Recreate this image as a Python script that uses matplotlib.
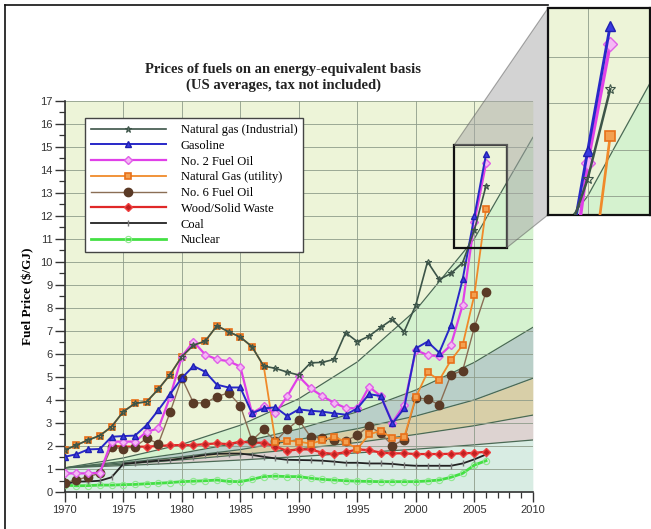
import matplotlib
matplotlib.use("Agg")
import matplotlib.pyplot as plt
from matplotlib.patches import Rectangle, Polygon
from matplotlib.lines import Line2D
import numpy as np

# values, $/GJ
years = list(range(1970, 2007))

gas_ind = [1.82, 2.04, 2.26, 2.45, 2.84, 3.49, 3.85, 3.92, 4.47, 5.10,
           5.88, 6.38, 6.55, 7.22, 6.96, 6.73, 6.31, 5.47, 5.37, 5.21,
           5.08, 5.61, 5.63, 5.76, 6.92, 6.53, 6.77, 7.15, 7.50, 6.96,
           8.12, 10.0, 9.23, 9.49, 9.96, 11.37, 13.3]
gasoline = [1.53, 1.64, 1.85, 1.87, 2.40, 2.43, 2.45, 2.91, 3.56, 4.25,
            4.95, 5.47, 5.22, 4.66, 4.54, 4.54, 3.42, 3.63, 3.68, 3.30,
            3.59, 3.53, 3.49, 3.42, 3.36, 3.63, 4.25, 4.17, 2.98, 3.63,
            6.24, 6.53, 6.05, 7.25, 9.23, 11.97, 14.67]
fuel2 = [0.81, 0.81, 0.81, 0.84, 2.19, 2.19, 2.19, 2.62, 2.76, 4.14,
         5.88, 6.53, 5.97, 5.76, 5.68, 5.45, 3.42, 3.73, 3.42, 4.15,
         5.02, 4.50, 4.17, 3.88, 3.65, 3.63, 4.57, 4.17, 3.01, 3.78,
         6.16, 5.95, 5.90, 6.38, 8.12, 11.71, 14.27]
gas_util = [1.82, 2.04, 2.26, 2.45, 2.84, 3.49, 3.85, 3.92, 4.47, 5.10,
            5.88, 6.38, 6.55, 7.22, 6.96, 6.73, 6.31, 5.47, 2.19, 2.23,
            2.19, 2.10, 2.24, 2.40, 2.18, 1.87, 2.50, 2.66, 2.33, 2.37,
            4.12, 5.20, 4.86, 5.72, 6.38, 8.55, 12.3]
fuel6 = [0.41, 0.52, 0.67, 0.81, 1.95, 1.88, 1.97, 2.33, 2.10, 3.46,
         4.95, 3.87, 3.87, 4.14, 4.31, 3.75, 2.24, 2.72, 2.20, 2.72,
         3.13, 2.40, 2.35, 2.26, 2.22, 2.47, 2.87, 2.55, 2.02, 2.27,
         4.07, 4.05, 3.78, 5.09, 5.27, 7.15, 8.68]
wood_years = list(range(1974, 2007))
wood = [2.00, 1.97, 1.97, 1.97, 2.00, 2.03, 2.04, 2.04, 2.08, 2.11,
        2.08, 2.19, 2.14, 2.14, 1.97, 1.79, 1.85, 1.85, 1.71, 1.65,
        1.73, 1.85, 1.82, 1.71, 1.68, 1.68, 1.65, 1.65, 1.65, 1.66,
        1.68, 1.70, 1.75]
coal = [0.35, 0.45, 0.46, 0.49, 0.64, 1.22, 1.27, 1.32, 1.36, 1.39,
        1.46, 1.53, 1.61, 1.66, 1.67, 1.67, 1.61, 1.53, 1.46, 1.40,
        1.39, 1.38, 1.36, 1.32, 1.27, 1.27, 1.24, 1.24, 1.22, 1.17,
        1.14, 1.14, 1.14, 1.14, 1.24, 1.42, 1.63]
nuclear = [0.30, 0.27, 0.28, 0.30, 0.30, 0.32, 0.33, 0.36, 0.38, 0.41,
           0.45, 0.47, 0.49, 0.52, 0.46, 0.45, 0.55, 0.67, 0.69, 0.67,
           0.67, 0.60, 0.55, 0.52, 0.49, 0.47, 0.46, 0.45, 0.45, 0.45,
           0.45, 0.48, 0.52, 0.64, 0.81, 1.17, 1.36]

# background fan of trend curves, read every 5 years
fan_years = [1970, 1975, 1980, 1985, 1990, 1995, 2000, 2005, 2010]
fan_a = [1.05, 1.48, 2.07, 2.90, 4.05, 5.65, 7.90, 11.0, 15.4]
fan_b = [1.05, 1.33, 1.69, 2.15, 2.74, 3.48, 4.43, 5.63, 7.15]
fan_c = [1.05, 1.27, 1.53, 1.84, 2.28, 2.75, 3.30, 4.00, 4.94]
fan_d = [1.05, 1.21, 1.40, 1.62, 1.87, 2.15, 2.50, 2.88, 3.34]
fan_e = [1.05, 1.15, 1.26, 1.39, 1.54, 1.70, 1.86, 2.05, 2.26]

serif = "Liberation Serif"
sans = "Liberation Sans"

fig = plt.figure(figsize=(6.51, 5.29), dpi=100)
ax = fig.add_axes([0.0995, 0.0699, 0.719, 0.740])


def draw_all(a, big=False):
    top = 20
    a.fill_between(fan_years, fan_a, top, color="#edf4d8", lw=0, zorder=0.3)
    a.fill_between(fan_years, fan_b, fan_a, color="#d5f2cf", lw=0, zorder=0.3)
    a.fill_between(fan_years, fan_c, fan_b, color="#b9cfc8", lw=0, zorder=0.3)
    a.fill_between(fan_years, fan_d, fan_c, color="#d8cfa8", lw=0, zorder=0.3)
    a.fill_between(fan_years, fan_e, fan_d, color="#ddd3d1", lw=0, zorder=0.3)
    a.fill_between(fan_years, 0, fan_e, color="#d8ece3", lw=0, zorder=0.3)
    for f in (fan_a, fan_b, fan_c, fan_d, fan_e):
        a.plot(fan_years, f, color="#4a6a55", lw=0.9, zorder=0.6)

    k = 1.5 if big else 1.0
    a.plot(years, nuclear, color="#44e044", lw=2.0 * k, marker="o", ms=4.5 * k,
           mfc="none", mec="#8fe88f", mew=0.8, zorder=3, label="Nuclear")
    a.plot(years, coal, color="#222222", lw=1.3 * k, marker="|", ms=4 * k,
           mec="#777777", zorder=3, label="Coal")
    a.plot(wood_years, wood, color="#e02828", lw=1.6 * k, marker="D", ms=3.8 * k,
           mfc="#c02020", mec="#f04040", zorder=4, label="Wood/Solid Waste")
    a.plot(years, fuel6, color="#8a6e55", lw=1.0 * k, marker="o", ms=6 * k,
           mfc="#5a3a26", mec="#5a3a26", zorder=4, label="No. 6 Fuel Oil")
    a.plot(years, gas_util, color="#f08a2a", lw=1.3 * k, marker="s", ms=5 * k,
           mfc="#f3a050", mec="#e8701a", mew=1.2, zorder=5,
           label="Natural Gas (utility)")
    a.plot(years, fuel2, color="#e040e8", lw=1.6 * k, marker="D", ms=4.5 * k,
           mfc="#f4b8f4", mec="#e060e8", zorder=6, label="No. 2 Fuel Oil")
    a.plot(years, gasoline, color="#2828c8", lw=1.4 * k, marker="^", ms=4.5 * k,
           mfc="#3a3ae0", mec="#2020b0", zorder=7, label="Gasoline")
    a.plot(years, gas_ind, color="#3c5448", lw=1.2 * k, marker="*", ms=5 * k,
           mfc="none", mec="#3c5448", mew=0.8, zorder=8,
           label="Natural gas (Industrial)")
    a.set_axisbelow("line")
    a.grid(True, which="major", color="#8e9c8a", lw=0.6)


draw_all(ax)

ax.set_xlim(1970, 2010)
ax.set_ylim(0, 17)
ax.set_xticks(range(1970, 2011, 5))
ax.set_xticks(range(1970, 2011), minor=True)
ax.set_yticks(range(0, 18))
ax.set_yticks(np.arange(0, 17.01, 0.5), minor=True)
ax.tick_params(which="major", length=7, width=1.0, color="#333333",
               labelsize=8, labelcolor="#333333", pad=2)
ax.tick_params(which="minor", length=4, width=0.9, color="#333333")
for lab in ax.get_xticklabels() + ax.get_yticklabels():
    lab.set_fontfamily(sans)
for s in ("top", "right"):
    ax.spines[s].set_visible(False)
for s in ("left", "bottom"):
    ax.spines[s].set_color("#333333")
    ax.spines[s].set_linewidth(1.2)

ax.set_ylabel("Fuel Price ($/GJ)", fontfamily=serif, fontweight="bold",
              fontsize=9.5, labelpad=4)

handles, labels = ax.get_legend_handles_labels()
leg = ax.legend(handles[::-1], labels[::-1], loc="upper left",
                bbox_to_anchor=(0.036, 0.964), prop={"family": serif, "size": 9},
                handlelength=6.0, labelspacing=0.3, fancybox=False,
                edgecolor="#444444", framealpha=1, borderpad=0.45,
                borderaxespad=0.3, handletextpad=1.2)
leg.get_frame().set_linewidth(1.0)
leg.set_zorder(20)

fig.text(0.435, 0.868, "Prices of fuels on an energy-equivalent basis",
         ha="center", va="center", fontfamily=serif, fontweight="bold",
         fontsize=10.5, color="#222222")
fig.text(0.435, 0.839, "(US averages, tax not included)",
         ha="center", va="center", fontfamily=serif, fontweight="bold",
         fontsize=10.5, color="#222222")

# zoomed inset
x0, x1, y0, y1 = 2003.25, 2007.75, 10.6, 15.05
ax.add_patch(Rectangle((x0, y0), x1 - x0, y1 - y0, fill=False, ec="#111111",
                       lw=1.6, zorder=15))
axin = fig.add_axes([0.842, 0.594, 0.156, 0.391], zorder=5)
draw_all(axin, big=True)
axin.set_xlim(x0, x1)
axin.set_ylim(y0, y1)
axin.set_xticks([2005])
axin.set_yticks([11, 12, 13, 14])
axin.tick_params(length=0, labelbottom=False, labelleft=False)
for s in axin.spines.values():
    s.set_linewidth(1.6)
    s.set_color("#111111")

# grey callout joining the box to the inset
to_fig = fig.transFigure.inverted()
def data_to_fig(a, x, y):
    return to_fig.transform(a.transData.transform((x, y)))
pts = [data_to_fig(ax, x0, y1), data_to_fig(axin, x0, y1),
       data_to_fig(axin, x0, y0), data_to_fig(ax, x1, y0),
       data_to_fig(ax, x1, y1)]
fig.add_artist(Polygon(pts, closed=True, transform=fig.transFigure,
                       fc="#a8a8a8", ec="#555555", lw=0.8, alpha=0.5, zorder=2))

# outer frame lines
fig.add_artist(Line2D([0.008, 0.008], [0.0, 0.99], color="#111111", lw=1.2))
fig.add_artist(Line2D([0.008, 0.842], [0.99, 0.99], color="#111111", lw=1.2))

fig.savefig("out.png", dpi=100)
